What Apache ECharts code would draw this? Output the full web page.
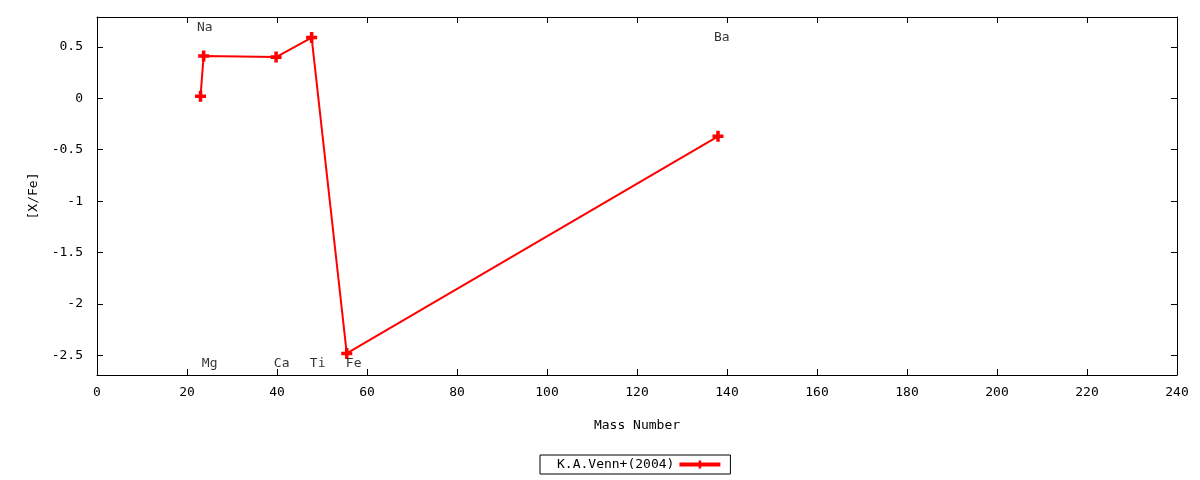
<!DOCTYPE html>
<html>
<head>
<meta charset="utf-8">
<script src="https://cdn.jsdelivr.net/npm/echarts@6/dist/echarts.min.js"></script>
<style>html,body{margin:0;padding:0;background:#fff;}#c{width:1200px;height:480px;}</style>
</head>
<body>
<div id="c"></div>
<script>
// Data
const seriesName = 'K.A.Venn+(2004)';
const massNumbers = [23, 23.7, 39.8, 47.7, 55.5, 138];
const xFeValues = [0.02, 0.41, 0.40, 0.59, -2.48, -0.37];
// element labels (text, x, y in data coordinates)
const labelNames = ['Na', 'Mg', 'Ca', 'Ti', 'Fe', 'Ba'];
const labelX = [22.2, 23.3, 39.3, 47.3, 55.3, 137.1];
const labelY = [0.69, -2.58, -2.58, -2.58, -2.58, 0.59];
const xTicks = [0, 20, 40, 60, 80, 100, 120, 140, 160, 180, 200, 220, 240];
const yTicks = [-2.5, -2, -1.5, -1, -0.5, 0, 0.5];

const FONT = 'DejaVu Sans Mono';
const plusPath = 'path://M3.4,0H6.6V3.4H10V6.6H6.6V10H3.4V6.6H0V3.4H3.4Z';

const chart = echarts.init(document.getElementById('c'), null, {renderer: 'canvas'});

function axisCommon(show) {
  return {
    axisLine: {show: true, onZero: false, lineStyle: {color: '#000', width: 1}},
    axisTick: {show: true, inside: true, length: 6, lineStyle: {color: '#000'}},
    splitLine: {show: false},
    axisLabel: {show: show, color: '#000', fontFamily: FONT, fontSize: 13}
  };
}

const xBase = axisCommon(true);
const yBase = axisCommon(true);
const xTop = axisCommon(false);
const yRight = axisCommon(false);

const option = {
  animation: false,
  backgroundColor: '#fff',
  grid: {left: 97, right: 23, top: 17, bottom: 105, containLabel: false},
  textStyle: {fontFamily: FONT},
  xAxis: [
    Object.assign({}, xBase, {
      type: 'value', min: 0, max: 240, position: 'bottom',
      name: 'Mass Number', nameLocation: 'middle', nameGap: 44,
      nameTextStyle: {color: '#000', fontFamily: FONT, fontSize: 13},
      axisTick: Object.assign({}, xBase.axisTick, {customValues: xTicks}),
      axisLabel: Object.assign({}, xBase.axisLabel, {customValues: xTicks, margin: 11})
    }),
    Object.assign({}, xTop, {
      type: 'value', min: 0, max: 240, position: 'top',
      axisTick: Object.assign({}, xTop.axisTick, {customValues: xTicks}),
      axisLabel: {show: false}
    })
  ],
  yAxis: [
    Object.assign({}, yBase, {
      type: 'value', min: -2.69, max: 0.79, position: 'left',
      name: '[X/Fe]', nameLocation: 'middle', nameGap: 57, nameRotate: 90,
      nameTextStyle: {color: '#000', fontFamily: FONT, fontSize: 13},
      axisTick: Object.assign({}, yBase.axisTick, {customValues: yTicks}),
      axisLabel: Object.assign({}, yBase.axisLabel, {customValues: yTicks, margin: 14})
    }),
    Object.assign({}, yRight, {
      type: 'value', min: -2.69, max: 0.79, position: 'right',
      axisTick: Object.assign({}, yRight.axisTick, {customValues: yTicks}),
      axisLabel: {show: false}
    })
  ],
  legend: {
    data: [seriesName],
    bottom: 6,
    left: 540,
    align: 'right',
    borderColor: '#000',
    borderWidth: 1,
    borderRadius: 0,
    padding: [3, 8, 3, 17],
    itemWidth: 41,
    itemHeight: 10,
    itemGap: 10,
    lineStyle: {width: 4},
    textStyle: {color: '#000', fontFamily: FONT, fontSize: 13}
  },
  series: [
    {
      name: seriesName,
      type: 'line',
      xAxisIndex: 0, yAxisIndex: 0,
      data: massNumbers.map((m, i) => [m, xFeValues[i]]),
      symbol: plusPath,
      symbolSize: 11,
      showAllSymbol: true,
      lineStyle: {color: '#ff0000', width: 2},
      itemStyle: {color: '#ff0000'},
      z: 3
    },
    {
      name: 'labels',
      type: 'scatter',
      xAxisIndex: 0, yAxisIndex: 0,
      data: labelNames.map((n, i) => ({value: [labelX[i], labelY[i]], name: n})),
      symbolSize: 0,
      silent: true,
      label: {
        show: true, position: 'inside', align: 'left', verticalAlign: 'middle',
        formatter: p => p.name,
        color: '#000', fontFamily: FONT, fontSize: 13
      },
      z: 4
    }
  ]
};
chart.setOption(option);
</script>
</body>
</html>
